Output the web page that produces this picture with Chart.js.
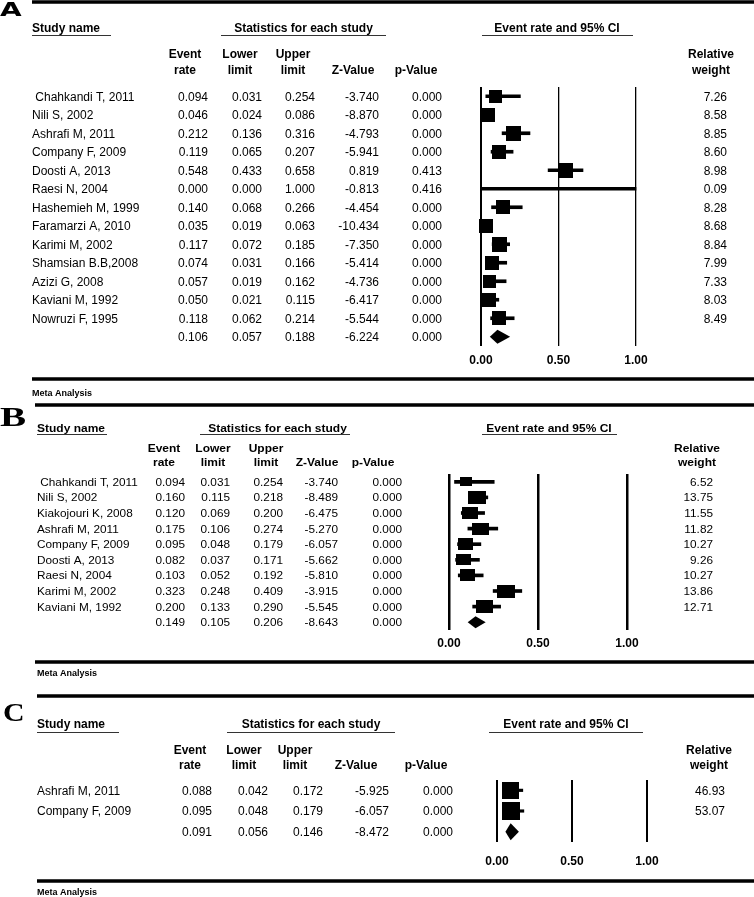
<!DOCTYPE html>
<html>
<head>
<meta charset="utf-8">
<title>Forest plots - event rate and 95% CI</title>
<script src="https://cdn.jsdelivr.net/npm/chart.js@4.4.1/dist/chart.umd.min.js"></script>
<style>
  html, body { margin: 0; padding: 0; background: #fff; }
  #wrap { position: relative; width: 754px; height: 897px; overflow: hidden; background: #fff; }
  #wrap canvas { position: absolute; left: 0; top: 0; }
</style>
</head>
<body>
<div id="wrap">
  <canvas id="chartA" width="754" height="897"></canvas>
  <canvas id="chartB" width="754" height="897"></canvas>
  <canvas id="chartC" width="754" height="897"></canvas>
</div>
<script>
/* ---------- data: panel A (last value of each stat array = pooled row) ---------- */
var studiesA = [' Chahkandi T, 2011', 'Nili S, 2002', 'Ashrafi M, 2011', 'Company F, 2009', 'Doosti A, 2013',
  'Raesi N, 2004', 'Hashemieh M, 1999', 'Faramarzi A, 2010', 'Karimi M, 2002', 'Shamsian B.B,2008',
  'Azizi G, 2008', 'Kaviani M, 1992', 'Nowruzi F, 1995'];
var rateA  = [0.094, 0.046, 0.212, 0.119, 0.548, 0.000, 0.140, 0.035, 0.117, 0.074, 0.057, 0.050, 0.118, 0.106];
var lowerA = [0.031, 0.024, 0.136, 0.065, 0.433, 0.000, 0.068, 0.019, 0.072, 0.031, 0.019, 0.021, 0.062, 0.057];
var upperA = [0.254, 0.086, 0.316, 0.207, 0.658, 1.000, 0.266, 0.063, 0.185, 0.166, 0.162, 0.115, 0.214, 0.188];
var zA     = [-3.740, -8.870, -4.793, -5.941, 0.819, -0.813, -4.454, -10.434, -7.350, -5.414, -4.736, -6.417, -5.544, -6.224];
var pA     = [0.000, 0.000, 0.000, 0.000, 0.413, 0.416, 0.000, 0.000, 0.000, 0.000, 0.000, 0.000, 0.000, 0.000];
var weightA = [7.26, 8.58, 8.85, 8.60, 8.98, 0.09, 8.28, 8.68, 8.84, 7.99, 7.33, 8.03, 8.49];

/* ---------- data: panel B ---------- */
var studiesB = [' Chahkandi T, 2011', 'Nili S, 2002', 'Kiakojouri K, 2008', 'Ashrafi M, 2011', 'Company F, 2009',
  'Doosti A, 2013', 'Raesi N, 2004', 'Karimi M, 2002', 'Kaviani M, 1992'];
var rateB  = [0.094, 0.160, 0.120, 0.175, 0.095, 0.082, 0.103, 0.323, 0.200, 0.149];
var lowerB = [0.031, 0.115, 0.069, 0.106, 0.048, 0.037, 0.052, 0.248, 0.133, 0.105];
var upperB = [0.254, 0.218, 0.200, 0.274, 0.179, 0.171, 0.192, 0.409, 0.290, 0.206];
var zB     = [-3.740, -8.489, -6.475, -5.270, -6.057, -5.662, -5.810, -3.915, -5.545, -8.643];
var pB     = [0.000, 0.000, 0.000, 0.000, 0.000, 0.000, 0.000, 0.000, 0.000, 0.000];
var weightB = [6.52, 13.75, 11.55, 11.82, 10.27, 9.26, 10.27, 13.86, 12.71];

/* ---------- data: panel C ---------- */
var studiesC = ['Ashrafi M, 2011', 'Company F, 2009'];
var rateC  = [0.088, 0.095, 0.091];
var lowerC = [0.042, 0.048, 0.056];
var upperC = [0.172, 0.179, 0.146];
var zC     = [-5.925, -6.057, -8.472];
var pC     = [0.000, 0.000, 0.000];
var weightC = [46.93, 53.07];

/* shared axis ticks */
var xTicks = [0, 0.5, 1];

var FONT = '"Liberation Sans", Arial, Helvetica, sans-serif';
var SERIF = '"Liberation Serif", "Times New Roman", serif';
var PAGE_W = 754, PAGE_H = 897, AXIS_H = 40;

/* ---------- layout (page pixels) ---------- */
var layoutA = {
  plot: { left: 481, right: 636, top: 87, bottom: 346 }, tickPad: 7, gridW: [2, 1.3, 1.3],
  ciW: 3, boxKx: 4.9, boxKy: 4.9, boxMin: 3, diamondH: 14,
  ruleX: 32, topRule: 2, bottomRule: 379, metaX: 32, metaY: 393,
  letter: { s: 'A', x: 0, y: 9, size: 20, family: '"DejaVu Sans", ' + FONT, sx: 1.4 },
  hdrSize: 12, valSize: 12, sy: 1,
  groupY: 28, ulY: 35, hdrY1: 54, hdrY2: 70,
  nameX: 32, nameUl: [32, 111], statsC: 303.5, statsUl: [221, 386], ciC: 557, ciUl: [482, 633],
  cols: [
    { key: 'rate',  h1: 'Event', h2: 'rate',  c: 185, r: 208 },
    { key: 'lower', h1: 'Lower', h2: 'limit', c: 240, r: 262 },
    { key: 'upper', h1: 'Upper', h2: 'limit', c: 293, r: 315 },
    { key: 'z',     h1: '',      h2: 'Z-Value', c: 353, r: 379 },
    { key: 'p',     h1: '',      h2: 'p-Value', c: 416, r: 442 }
  ],
  weight: { c: 711, r: 727 }
};

var layoutB = {
  plot: { left: 449, right: 627, top: 474, bottom: 630 }, tickPad: 6, gridW: [2.5, 2.5, 2.5],
  ciW: 3, boxKx: 4.8, boxKy: 3.6, boxMin: 3, diamondH: 12,
  ruleX: 35, topRule: 405, bottomRule: 662, metaX: 37, metaY: 673,
  letter: { s: 'B', x: 0, y: 416, size: 27, family: SERIF, sx: 1.45 },
  hdrSize: 12, valSize: 11.8, sy: 0.92,
  groupY: 428, ulY: 434, hdrY1: 448, hdrY2: 462,
  nameX: 37, nameUl: [37, 107], statsC: 277.5, statsUl: [200, 350], ciC: 549, ciUl: [482, 617],
  cols: [
    { key: 'rate',  h1: 'Event', h2: 'rate',  c: 164, r: 185 },
    { key: 'lower', h1: 'Lower', h2: 'limit', c: 213, r: 230 },
    { key: 'upper', h1: 'Upper', h2: 'limit', c: 266, r: 283 },
    { key: 'z',     h1: '',      h2: 'Z-Value', c: 317, r: 338 },
    { key: 'p',     h1: '',      h2: 'p-Value', c: 373, r: 402 }
  ],
  weight: { c: 697, r: 713 }
};

var layoutC = {
  plot: { left: 497, right: 647, top: 780, bottom: 842 }, tickPad: 12, gridW: [2, 2, 2],
  ciW: 2.5, boxKx: 2.45, boxKy: 2.45, boxMin: 3, diamondH: 17,
  ruleX: 37, topRule: 696, bottomRule: 881, metaX: 37, metaY: 892,
  letter: { s: 'C', x: 3, y: 711.5, size: 26, family: SERIF, sx: 1.15 },
  hdrSize: 12, valSize: 12, sy: 1,
  groupY: 724, ulY: 732, hdrY1: 750, hdrY2: 765,
  nameX: 37, nameUl: [37, 119], statsC: 311, statsUl: [227, 395], ciC: 566, ciUl: [489, 643],
  cols: [
    { key: 'rate',  h1: 'Event', h2: 'rate',  c: 190, r: 212 },
    { key: 'lower', h1: 'Lower', h2: 'limit', c: 244, r: 268 },
    { key: 'upper', h1: 'Upper', h2: 'limit', c: 295, r: 323 },
    { key: 'z',     h1: '',      h2: 'Z-Value', c: 356, r: 389 },
    { key: 'p',     h1: '',      h2: 'p-Value', c: 426, r: 453 }
  ],
  weight: { c: 709, r: 725 }
};

/* text drawn with y as the visual centre of the capitals */
function text(ctx, s, x, y, size, bold, align, sx, sy, family) {
  ctx.save();
  ctx.translate(x, y);
  ctx.scale(sx || 1, sy || 1);
  ctx.font = (bold ? 'bold ' : '') + size + 'px ' + (family || FONT);
  ctx.textAlign = align || 'left';
  ctx.textBaseline = 'alphabetic';
  ctx.fillStyle = '#000';
  ctx.fillText(s, 0, size * 0.36);
  ctx.restore();
}

function makeBox(w, h) {
  var c = document.createElement('canvas');
  c.width = Math.max(1, Math.round(w));
  c.height = Math.max(1, Math.round(h));
  var g = c.getContext('2d');
  g.fillStyle = '#000';
  g.fillRect(0, 0, c.width, c.height);
  return c;
}

function drawTable(chart, P, L) {
  var ctx = chart.ctx, xs = chart.scales.x, ys = chart.scales.y;
  var nStudy = P.names.length, nRows = P.rate.length;
  ctx.save();
  ctx.fillStyle = '#000';

  // heavy rules + footer
  ctx.fillRect(L.ruleX, L.topRule - 1.75, PAGE_W - L.ruleX, 3.5);
  ctx.fillRect(L.ruleX, L.bottomRule - 1.75, PAGE_W - L.ruleX, 3.5);
  text(ctx, 'Meta Analysis', L.metaX, L.metaY, 9, true, 'left');
  text(ctx, L.letter.s, L.letter.x, L.letter.y, L.letter.size, true, 'left', L.letter.sx, 1, L.letter.family);

  // group headers with underlines
  text(ctx, 'Study name', L.nameX, L.groupY, L.hdrSize, true, 'left', 1, L.sy);
  text(ctx, 'Statistics for each study', L.statsC, L.groupY, L.hdrSize, true, 'center', 1, L.sy);
  text(ctx, 'Event rate and 95% CI', L.ciC, L.groupY, L.hdrSize, true, 'center', 1, L.sy);
  ctx.fillStyle = '#333';
  ctx.fillRect(L.nameUl[0], L.ulY, L.nameUl[1] - L.nameUl[0], 1);
  ctx.fillRect(L.statsUl[0], L.ulY, L.statsUl[1] - L.statsUl[0], 1);
  ctx.fillRect(L.ciUl[0], L.ulY, L.ciUl[1] - L.ciUl[0], 1);

  // column headers
  L.cols.forEach(function (c) {
    if (c.h1) text(ctx, c.h1, c.c, L.hdrY1, L.hdrSize, true, 'center', 1, L.sy);
    text(ctx, c.h2, c.c, L.hdrY2, L.hdrSize, true, 'center', 1, L.sy);
  });
  text(ctx, 'Relative', L.weight.c, L.hdrY1, L.hdrSize, true, 'center', 1, L.sy);
  text(ctx, 'weight', L.weight.c, L.hdrY2, L.hdrSize, true, 'center', 1, L.sy);

  // rows, placed by the y scale
  for (var i = 0; i < nRows; i++) {
    var y = ys.getPixelForValue(i);
    if (i < nStudy) {
      text(ctx, P.names[i], L.nameX, y, L.valSize, false, 'left', 1, L.sy);
      text(ctx, P.weight[i].toFixed(2), L.weight.r, y, L.valSize, false, 'right', 1, L.sy);
    }
    L.cols.forEach(function (c) {
      text(ctx, P[c.key][i].toFixed(3), c.r, y, L.valSize, false, 'right', 1, L.sy);
    });
  }

  // pooled estimate diamond
  var k = nRows - 1;
  var yc = ys.getPixelForValue(k);
  var xl = xs.getPixelForValue(P.lower[k]);
  var xm = xs.getPixelForValue(P.rate[k]);
  var xr = xs.getPixelForValue(P.upper[k]);
  var h = L.diamondH / 2;
  ctx.fillStyle = '#000';
  ctx.beginPath();
  ctx.moveTo(xl, yc);
  ctx.lineTo(xm, yc - h);
  ctx.lineTo(xr, yc);
  ctx.lineTo(xm, yc + h);
  ctx.closePath();
  ctx.fill();
  ctx.restore();
}

function buildPanel(id, P, L) {
  var nStudy = P.names.length, nRows = P.rate.length;
  var ciData = [], boxData = [], boxImgs = [];
  for (var i = 0; i < nStudy; i++) {
    ciData.push({ x: [P.lower[i], P.upper[i]], y: i });
    boxData.push({ x: P.rate[i], y: i });
    var s = Math.sqrt(P.weight[i]);
    boxImgs.push(makeBox(Math.max(L.boxMin, L.boxKx * s), Math.max(L.boxMin, L.boxKy * s)));
  }

  return new Chart(document.getElementById(id), {
    data: {
      datasets: [
        {
          type: 'bar', indexAxis: 'y', data: ciData,
          backgroundColor: '#000', borderWidth: 0, barThickness: L.ciW, clip: false
        },
        {
          type: 'scatter', data: boxData, clip: false,
          pointStyle: function (c) { return boxImgs[c.dataIndex] || 'rect'; },
          pointRadius: 9, pointBackgroundColor: '#000', pointBorderWidth: 0
        }
      ]
    },
    options: {
      responsive: false,
      animation: false,
      events: [],
      layout: {
        padding: {
          left: L.plot.left,
          right: PAGE_W - L.plot.right,
          top: L.plot.top,
          bottom: PAGE_H - L.plot.bottom - AXIS_H
        }
      },
      plugins: { legend: { display: false }, tooltip: { enabled: false } },
      scales: {
        x: {
          type: 'linear', position: 'bottom', offset: false,
          min: xTicks[0], max: xTicks[xTicks.length - 1],
          afterFit: function (s) { s.height = AXIS_H; },
          afterBuildTicks: function (s) { s.ticks = xTicks.map(function (v) { return { value: v }; }); },
          border: { display: false },
          grid: {
            color: '#000', drawTicks: false, offset: false,
            lineWidth: function (c) { return L.gridW[c.index] || 1; }
          },
          ticks: {
            padding: L.tickPad, color: '#000', autoSkip: false, maxRotation: 0,
            font: { family: FONT, size: 12, weight: 'bold' },
            callback: function (v) { return Number(v).toFixed(2); }
          }
        },
        y: {
          type: 'linear', offset: false, grid: { offset: false },
          min: -0.5, max: nRows - 0.5, reverse: true, display: false
        }
      }
    },
    plugins: [{ id: 'forestTable', afterDraw: function (chart) { drawTable(chart, P, L); } }]
  });
}

buildPanel('chartA', { names: studiesA, rate: rateA, lower: lowerA, upper: upperA, z: zA, p: pA, weight: weightA }, layoutA);
buildPanel('chartB', { names: studiesB, rate: rateB, lower: lowerB, upper: upperB, z: zB, p: pB, weight: weightB }, layoutB);
buildPanel('chartC', { names: studiesC, rate: rateC, lower: lowerC, upper: upperC, z: zC, p: pC, weight: weightC }, layoutC);
</script>
</body>
</html>
